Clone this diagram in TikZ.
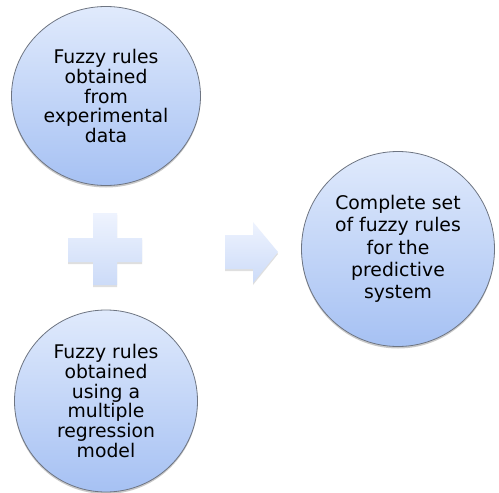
\documentclass[tikz,border=0pt]{standalone}
\usepackage{fontspec}
\setmainfont{DejaVu Sans}
\usetikzlibrary{shadows,shapes.geometric}
\definecolor{ctop}{HTML}{E0EAFC}
\definecolor{cbot}{HTML}{A6C1F3}
\definecolor{stop}{HTML}{EEF3FE}
\definecolor{sbot}{HTML}{CCDBF8}
\definecolor{edge}{HTML}{6E7582}
\tikzset{
  bubble/.style={ellipse, draw=edge, line width=0.8pt, top color=ctop, bottom color=cbot,
    drop shadow={shadow xshift=0pt, shadow yshift=-2pt, opacity=0.35, fill=black!60},
    align=center, font=\fontsize{18.8}{19.7}\selectfont, text=black, inner sep=0pt},
  shapefill/.style={top color=stop, bottom color=sbot, draw=none,
    drop shadow={shadow xshift=0pt, shadow yshift=-2pt, opacity=0.25, fill=black!50}}
}
\begin{document}
\begin{tikzpicture}[x=1pt,y=-1pt]
\useasboundingbox (0,0) rectangle (499,493);
\fill[white] (0,0) rectangle (499,493);
\node[bubble, minimum width=189pt, minimum height=179pt] (top) at (106,96)
  {Fuzzy rules\\obtained\\from\\experimental\\data};
\node[bubble, minimum width=183pt, minimum height=182pt] (bot) at (106,401)
  {Fuzzy rules\\obtained\\using a\\multiple\\regression\\model};
\node[bubble, minimum width=193pt, minimum height=195pt, font=\fontsize{18.8}{22.3}\selectfont] (res) at (398,249)
  {Complete set\\of fuzzy rules\\for the\\predictive\\system};
% plus sign
\path[shapefill] (93,213) -- (117,213) -- (117,238) -- (142,238) -- (142,262) -- (117,262)
  -- (117,285) -- (93,285) -- (93,262) -- (68,262) -- (68,238) -- (93,238) -- cycle;
\coordinate (plus) at (105,250);
% arrow
\path[shapefill] (225,235) -- (253,235) -- (253,222) -- (278,252) -- (253,283) -- (253,269)
  -- (225,269) -- cycle;
\coordinate (arr) at (251,252);
\end{tikzpicture}
\end{document}
